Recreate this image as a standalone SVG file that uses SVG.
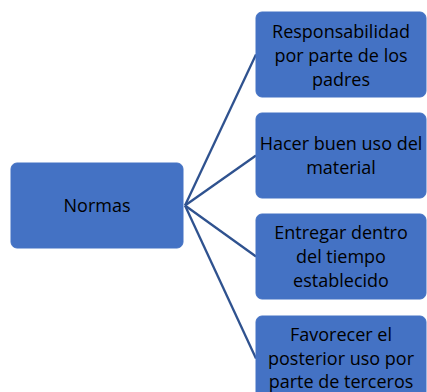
<svg xmlns="http://www.w3.org/2000/svg" width="427" height="392" viewBox="0 0 427 392">
<style>
.box{fill:#4472C4;stroke:#4472C4;stroke-width:1}
.t{font-family:"Open Sans","Liberation Sans",sans-serif;font-size:18px;fill:#000;text-anchor:middle}
.c{stroke:#2F528F;stroke-width:2.3;fill:none}
</style>
<rect width="427" height="392" fill="#fff"/>
<g id="connectors">
<line class="c" x1="185" y1="205.5" x2="256" y2="54.5"/>
<line class="c" x1="185" y1="205.5" x2="256" y2="155.5"/>
<line class="c" x1="185" y1="205.5" x2="256" y2="256.5"/>
<line class="c" x1="185" y1="205.5" x2="256" y2="358.5"/>
</g>
<g id="normas">
<rect class="box" x="11" y="163" width="172" height="85" rx="6"/>
<text class="t" x="97" y="212">Normas</text>
</g>
<g id="n1">
<rect class="box" x="256" y="12" width="170" height="85" rx="6"/>
<text class="t" x="341" y="37.5">Responsabilidad</text>
<text class="t" x="341" y="61.5">por parte de los</text>
<text class="t" x="341" y="85.5">padres</text>
</g>
<g id="n2">
<rect class="box" x="256" y="113" width="170" height="85" rx="6"/>
<text class="t" x="341" y="150">Hacer buen uso del</text>
<text class="t" x="341" y="174">material</text>
</g>
<g id="n3">
<rect class="box" x="256" y="214" width="170" height="85" rx="6"/>
<text class="t" x="341" y="238.5">Entregar dentro</text>
<text class="t" x="341" y="262.5">del tiempo</text>
<text class="t" x="341" y="286.5">establecido</text>
</g>
<g id="n4">
<rect class="box" x="256" y="316" width="170" height="85" rx="6"/>
<text class="t" x="341" y="340.5">Favorecer el</text>
<text class="t" x="341" y="364.5">posterior uso por</text>
<text class="t" x="341" y="388">parte de terceros</text>
</g>
</svg>
